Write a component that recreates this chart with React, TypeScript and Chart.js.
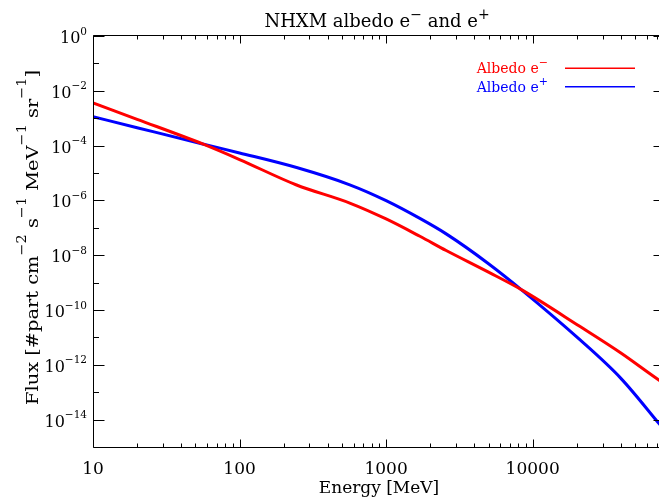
import React, { useEffect, useRef } from "react";
import { Chart, registerables } from "chart.js";

Chart.register(...registerables);

// Data (log-log)
const energyMeV = [10, 20, 56, 100, 245, 565, 1000, 1700, 2570, 5000, 8600, 20800, 40000, 72600, 80000];
const albedoElectron = [3.6e-3, 9.1e-4, 1.15e-4, 3.1e-5, 3.65e-6, 8.0e-7, 2.1e-7, 4.9e-8, 1.48e-8, 2.4e-9, 5.1e-10, 2.6e-11, 2.7e-12, 2.8e-13, 2.0e-13];
const albedoPositron = [1.13e-3, 4.5e-4, 1.15e-4, 5.4e-5, 1.58e-5, 3.7e-6, 9.8e-7, 2.2e-7, 6.0e-8, 4.9e-9, 4.9e-10, 8.6e-12, 3.2e-13, 7.3e-15, 3.9e-15];

const xLabelValues = [10, 100, 1000, 10000];
const yMajorExponents = [0, -2, -4, -6, -8, -10, -12, -14];
const yMinorExponents = [-1, -3, -5, -7, -9, -11, -13];
const xMin = 10;
const xMax = 80000;
const yMin = 1e-15;
const yMax = 1;

const SERIF = '"DejaVu Serif", serif';
const RED = "#ff0000";
const BLUE = "#0000ff";

type Seg = [string, boolean];

function drawSegs(ctx: CanvasRenderingContext2D, segs: Seg[], x: number, y: number, base: number, sup: number, raise: number) {
  let cx = x;
  for (const [t, s] of segs) {
    ctx.font = `${s ? sup : base}px ${SERIF}`;
    ctx.fillText(t, cx, s ? y - raise : y);
    cx += ctx.measureText(t).width;
  }
  return cx - x;
}
function segsWidth(ctx: CanvasRenderingContext2D, segs: Seg[], base: number, sup: number) {
  let w = 0;
  for (const [t, s] of segs) {
    ctx.font = `${s ? sup : base}px ${SERIF}`;
    w += ctx.measureText(t).width;
  }
  return w;
}

const decorPlugin = {
  id: "idlDecor",
  afterDraw(chart: any) {
    const { ctx, chartArea } = chart;
    const { left, right, top, bottom } = chartArea;
    const xs = chart.scales.x;
    const ys = chart.scales.y;
    ctx.save();
    ctx.strokeStyle = "#000";
    ctx.lineWidth = 1;
    // frame
    const L = Math.round(left) + 0.5;
    const R = Math.round(right) - 0.5;
    const T = Math.round(top) - 0.5;
    const B = Math.round(bottom) + 0.5;
    ctx.beginPath();
    ctx.moveTo(L, T); ctx.lineTo(R, T); ctx.lineTo(R, B); ctx.lineTo(L, B); ctx.closePath();
    ctx.stroke();

    // x ticks (bottom + top, inward)
    ctx.beginPath();
    for (let d = 10; d <= xMax; d *= 10) {
      for (let m = 1; m <= 9; m++) {
        const v = d * m;
        if (v < xMin || v > xMax) continue;
        const px = Math.round(xs.getPixelForValue(v)) + 0.5;
        const len = m === 1 ? 8 : 4;
        ctx.moveTo(px, B); ctx.lineTo(px, B - len);
        ctx.moveTo(px, T); ctx.lineTo(px, T + len);
      }
    }
    // y ticks (left + right, inward)
    for (const e of yMajorExponents) {
      const py = Math.round(ys.getPixelForValue(Math.pow(10, e))) + 0.5;
      ctx.moveTo(L, py); ctx.lineTo(L + 11, py);
      ctx.moveTo(R, py); ctx.lineTo(R - 11, py);
    }
    for (const e of yMinorExponents) {
      const py = Math.round(ys.getPixelForValue(Math.pow(10, e))) + 0.5;
      ctx.moveTo(L, py); ctx.lineTo(L + 5.5, py);
      ctx.moveTo(R, py); ctx.lineTo(R - 5.5, py);
    }
    ctx.stroke();

    // y tick labels
    ctx.fillStyle = "#000";
    ctx.textBaseline = "alphabetic";
    ctx.textAlign = "left";
    for (const e of yMajorExponents) {
      const py = ys.getPixelForValue(Math.pow(10, e));
      const supTxt = e === 0 ? "0" : "\u2212" + Math.abs(e);
      const segs: Seg[] = [["10", false], [supTxt, true]];
      const w = segsWidth(ctx, segs, 16, 10.5);
      drawSegs(ctx, segs, left - 6 - w, py + 7, 16, 10.5, 8.5);
    }

    // y axis title (rotated)
    const ySegs: Seg[] = [
      ["Flux [#part cm", false], ["\u22122", true], [" s", false], ["\u22121", true],
      [" MeV", false], ["\u22121", true], [" sr", false], ["\u22121", true], ["]", false],
    ];
    const yw = segsWidth(ctx, ySegs, 17.5, 13);
    const targetLen = 335;
    ctx.save();
    ctx.translate(37.5, 405);
    ctx.rotate(-Math.PI / 2);
    ctx.scale(targetLen / yw, 1);
    drawSegs(ctx, ySegs, 0, 0, 17.5, 13, 12);
    ctx.restore();

    // chart title
    const tSegs: Seg[] = [["NHXM albedo e", false], ["\u2212", true], [" and e", false], ["+", true]];
    const tw = segsWidth(ctx, tSegs, 18, 14);
    drawSegs(ctx, tSegs, 377 - tw / 2, 27.3, 18, 14, 8);

    // legend
    const legend: [string, string, number][] = [["\u2212", RED, 73.3], ["+", BLUE, 91.7]];
    for (const [sgn, col, by] of legend) {
      ctx.fillStyle = col;
      drawSegs(ctx, [["Albedo e", false], [sgn, true]], 476.7, by, 14, 11, 7);
      ctx.strokeStyle = col;
      ctx.lineWidth = 1.5;
      ctx.beginPath();
      ctx.moveTo(565, by - 5);
      ctx.lineTo(635, by - 5);
      ctx.stroke();
    }
    ctx.restore();
  },
};

export default function App() {
  const ref = useRef<HTMLCanvasElement | null>(null);
  useEffect(() => {
    document.body.style.margin = "0";
    const canvas = ref.current;
    if (!canvas) return;
    const chart = new Chart(canvas, {
      type: "line",
      data: {
        datasets: [
          {
            label: "Albedo e\u2212",
            data: energyMeV.map((e, i) => ({ x: e, y: albedoElectron[i] })),
            borderColor: RED,
            backgroundColor: RED,
            borderWidth: 3,
            pointRadius: 0,
            cubicInterpolationMode: "monotone",
          },
          {
            label: "Albedo e+",
            data: energyMeV.map((e, i) => ({ x: e, y: albedoPositron[i] })),
            borderColor: BLUE,
            backgroundColor: BLUE,
            borderWidth: 3,
            pointRadius: 0,
            cubicInterpolationMode: "monotone",
          },
        ],
      },
      options: {
        animation: false,
        responsive: false,
        devicePixelRatio: 1,
        layout: { padding: { top: 36, right: 15, left: 0, bottom: 0 } },
        plugins: { legend: { display: false }, title: { display: false }, tooltip: { enabled: false } },
        events: [],
        scales: {
          x: {
            type: "logarithmic",
            min: xMin,
            max: xMax,
            grid: { display: false, drawTicks: false },
            border: { display: false },
            ticks: {
              autoSkip: false,
              maxRotation: 0,
              padding: 12,
              color: "#000",
              font: { family: SERIF, size: 17 },
              callback: (v: any) => (xLabelValues.includes(Number(v)) ? String(v) : ""),
            },
            title: {
              display: true,
              text: "Energy [MeV]",
              color: "#000",
              font: { family: SERIF, size: 17, lineHeight: 1 },
              padding: 0,
            },
            afterFit: (s: any) => { s.height = 50; },
          },
          y: {
            type: "logarithmic",
            min: yMin,
            max: yMax,
            grid: { display: false, drawTicks: false },
            border: { display: false },
            ticks: { display: false },
            afterFit: (s: any) => { s.width = 93; },
          },
        },
      },
      plugins: [decorPlugin],
    } as any);
    return () => chart.destroy();
  }, []);
  return (
    <div style={{ position: "fixed", left: 0, top: 0, width: 659, height: 497, overflow: "hidden", background: "#fff" }}>
      <canvas ref={ref} width={680} height={497} style={{ display: "block" }} />
    </div>
  );
}
